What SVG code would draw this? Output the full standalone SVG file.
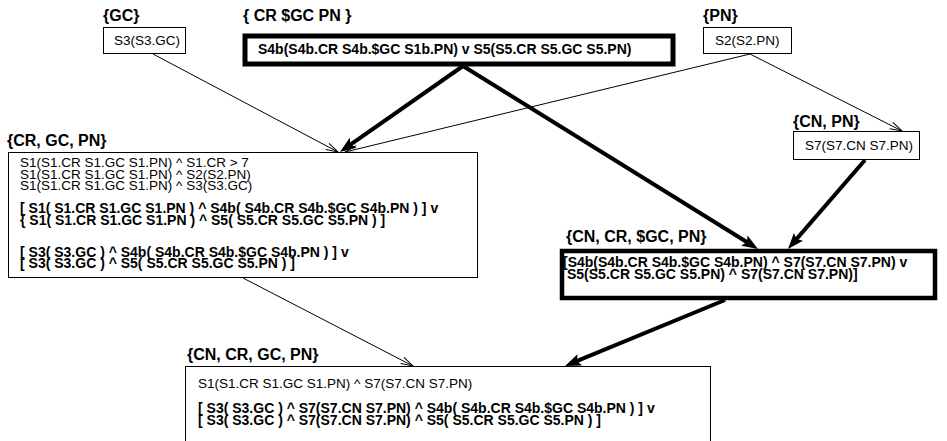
<svg xmlns="http://www.w3.org/2000/svg" width="947" height="441" viewBox="0 0 947 441">
<defs>
<marker id="open" markerUnits="userSpaceOnUse" markerWidth="14" markerHeight="10" refX="12" refY="4" orient="auto" overflow="visible"><path d="M0,0.5 L12,4 L0,7.5" fill="none" stroke="#000" stroke-width="1"/></marker>
<marker id="solid" markerUnits="userSpaceOnUse" markerWidth="20" markerHeight="14" refX="8" refY="6" orient="auto" overflow="visible"><path d="M0,0 L16,6 L0,12 L3,6 Z" fill="#000"/></marker>
</defs>
<style>
.lbl{font-family:"Liberation Sans",Arial,sans-serif;font-weight:bold;font-size:16px;fill:#000}
.t{font-family:"Liberation Sans",Arial,sans-serif;font-size:13.5px;fill:#000}
.b{font-family:"Liberation Sans",Arial,sans-serif;font-weight:bold;font-size:14px;fill:#000}
.box{fill:#fff;stroke:#000;stroke-width:1}
.tbox{fill:#fff;stroke:#000;stroke-width:5}
.thin{stroke:#000;stroke-width:1;fill:none;marker-end:url(#open)}
.thick{stroke:#000;stroke-width:4;fill:none;marker-end:url(#solid)}
</style>
<rect width="947" height="441" fill="#fff"/>
<g id="node-gc">
<text class="lbl" x="103" y="21">{GC}</text>
<rect class="box" x="103.5" y="27.5" width="82" height="26"/>
<text class="t" x="114" y="45">S3(S3.GC)</text>
</g>
<g id="node-cr-gc-pn-top">
<text class="lbl" x="243" y="21">{ CR $GC PN }</text>
<rect class="tbox" x="245" y="36" width="428" height="28"/>
<text class="b" x="258" y="54">S4b(S4b.CR S4b.$GC S1b.PN) v S5(S5.CR S5.GC S5.PN)</text>
</g>
<g id="node-pn">
<text class="lbl" x="703" y="21">{PN}</text>
<rect class="box" x="703.5" y="27.5" width="88" height="26"/>
<text class="t" x="715" y="45">S2(S2.PN)</text>
</g>
<g id="node-cn-pn">
<text class="lbl" x="793" y="127">{CN, PN}</text>
<rect class="box" x="793.5" y="131.5" width="126" height="28"/>
<text class="t" x="805" y="150">S7(S7.CN S7.PN)</text>
</g>
<g id="node-cr-gc-pn">
<text class="lbl" x="7" y="146">{CR, GC, PN}</text>
<rect class="box" x="8.5" y="152.5" width="469" height="125"/>
<text class="t" x="20" y="167">S1(S1.CR S1.GC S1.PN) ^ S1.CR &gt; 7</text>
<text class="t" x="20" y="178.5">S1(S1.CR S1.GC S1.PN) ^ S2(S2.PN)</text>
<text class="t" x="20" y="190">S1(S1.CR S1.GC S1.PN) ^ S3(S3.GC)</text>
<text class="b" x="20" y="213">[ S1( S1.CR S1.GC S1.PN ) ^ S4b( S4b.CR S4b.$GC S4b.PN ) ] v</text>
<text class="b" x="20" y="224.5">{ S1( S1.CR S1.GC S1.PN ) ^ S5( S5.CR S5.GC S5.PN ) ]</text>
<text class="b" x="20" y="256.5">[ S3( S3.GC ) ^ S4b( S4b.CR S4b.$GC S4b.PN ) ] v</text>
<text class="b" x="20" y="268">[ S3( S3.GC ) ^ S5( S5.CR S5.GC S5.PN ) ]</text>
</g>
<g id="node-cn-cr-sgc-pn">
<text class="lbl" x="566" y="242">{CN, CR, $GC, PN}</text>
<rect class="tbox" x="562" y="251" width="373" height="47" style="stroke-width:4.5"/>
<text class="b" x="563" y="267">[S4b(S4b.CR S4b.$GC S4b.PN) ^ S7(S7.CN S7.PN) v</text>
<text class="b" x="567" y="279">S5(S5.CR S5.GC S5.PN) ^ S7(S7.CN S7.PN)]</text>
</g>
<g id="node-cn-cr-gc-pn">
<text class="lbl" x="187" y="360">{CN, CR, GC, PN}</text>
<rect class="box" x="185.5" y="366.5" width="525" height="90"/>
<text class="t" x="198" y="388">S1(S1.CR S1.GC S1.PN) ^ S7(S7.CN S7.PN)</text>
<text class="b" x="198" y="413">[ S3( S3.GC ) ^ S7(S7.CN S7.PN) ^ S4b( S4b.CR S4b.$GC S4b.PN ) ] v</text>
<text class="b" x="198" y="424.5">[ S3( S3.GC ) ^ S7(S7.CN S7.PN) ^ S5( S5.CR S5.GC S5.PN ) ]</text>
</g>
<g id="connectors">
<line class="thin" x1="153" y1="54" x2="338" y2="152"/>
<line class="thin" x1="750" y1="54" x2="345" y2="152"/>
<line class="thin" x1="750" y1="54" x2="902" y2="131"/>
<line class="thin" x1="243" y1="278" x2="413" y2="366"/>
<line class="thick" x1="463" y1="66" x2="346.5" y2="147.3"/>
<line class="thick" x1="463" y1="66" x2="751.2" y2="244.75"/>
<line class="thick" x1="865" y1="160" x2="793.2" y2="242.9"/>
<line class="thick" x1="725" y1="300" x2="572.4" y2="362.95"/>
</g>
</svg>
